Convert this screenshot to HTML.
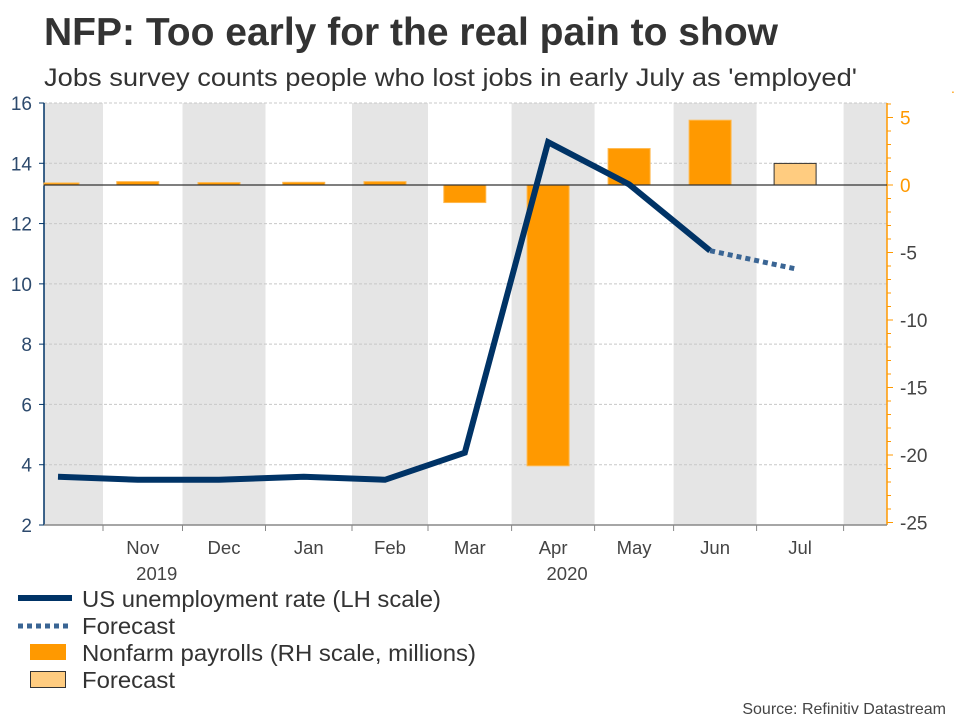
<!DOCTYPE html>
<html><head><meta charset="utf-8"><style>
body{margin:0;background:#fff;width:960px;height:720px;overflow:hidden;font-family:"Liberation Sans",Arial,sans-serif}
</style></head><body>
<svg id="c" width="960" height="720" xmlns="http://www.w3.org/2000/svg">
<text x="44" y="45" font-size="39" font-weight="bold" fill="#333" textLength="734" lengthAdjust="spacingAndGlyphs">NFP: Too early for the real pain to show</text>
<text x="44" y="86" font-size="25" fill="#333" textLength="813" lengthAdjust="spacingAndGlyphs">Jobs survey counts people who lost jobs in early July as 'employed'</text>
<text x="951" y="93" font-size="14" fill="#f90">.</text>
<g id="plot"></g>
<g>
<line x1="18" y1="598" x2="72" y2="598" stroke="#003366" stroke-width="6"/>
<text x="82" y="607" font-size="23" fill="#333" textLength="359" lengthAdjust="spacingAndGlyphs">US unemployment rate (LH scale)</text>
<line x1="18" y1="626" x2="72" y2="626" stroke="#3a6594" stroke-width="5" stroke-dasharray="5,4"/>
<text x="82" y="634" font-size="23" fill="#333" textLength="93" lengthAdjust="spacingAndGlyphs">Forecast</text>
<rect x="30" y="644" width="36" height="16" fill="#ff9900"/>
<text x="82" y="661" font-size="23" fill="#333" textLength="394" lengthAdjust="spacingAndGlyphs">Nonfarm payrolls (RH scale, millions)</text>
<rect x="30.5" y="671.5" width="35" height="16" fill="#ffcc80" stroke="#333"/>
<text x="82" y="688" font-size="23" fill="#333" textLength="93" lengthAdjust="spacingAndGlyphs">Forecast</text>
</g>
<text x="946" y="714" font-size="16" fill="#444" text-anchor="end">Source: Refinitiv Datastream</text>
</svg>
<script>
const months=["Oct","Nov","Dec","Jan","Feb","Mar","Apr","May","Jun","Jul"];
const unemp=[3.6,3.5,3.5,3.6,3.5,4.4,14.7,13.3,11.1,null];
const unempForecast=[null,null,null,null,null,null,null,null,11.1,10.5];
const payrolls=[0.15,0.25,0.18,0.2,0.25,-1.3,-20.8,2.7,4.8,null];
const payrollsForecast=[null,null,null,null,null,null,null,null,null,1.6];
const leftTicks=[2,4,6,8,10,12,14,16];
const rightTicks=[5,0,-5,-10,-15,-20,-25];
const yearLabels=[["2019",1],["2020",6]];

const NS="http://www.w3.org/2000/svg";
const plot=document.getElementById('plot');
function mk(t,a,p){const e=document.createElementNS(NS,t);for(const k in a)e.setAttribute(k,a[k]);(p||plot).appendChild(e);return e;}
const L=44,R=887,T=103,B=525;
const edges=[44,103,182.5,265.5,352,428,511.6,594.6,673.6,756.6,843.6,887];
const yL=v=>B-(v-2)*(B-T)/14;
const yR=v=>185-v*13.5;
function xc(i){return i===0?58:(edges[i]+edges[i+1])/2-5;}
for(let i=0;i<edges.length-1;i++){if(i%2===0){
const r=mk('rect',{x:edges[i],y:T,width:edges[i+1]-edges[i],height:B-T,fill:'#e5e5e5'});

}}
leftTicks.forEach(v=>{
if(v>2){const g=mk('line',{x1:L,x2:R,y1:yL(v),y2:yL(v),stroke:'#c8c8c8','stroke-dasharray':'3,2'});

}
mk('line',{x1:L-5,x2:L,y1:yL(v),y2:yL(v),stroke:'#003366'});
const t=mk('text',{x:L-12,y:yL(v)+7,'font-size':19,fill:'#2d4a6d','text-anchor':'end'});t.textContent=v;


});
const yl=mk('line',{x1:L,x2:L,y1:T,y2:B,stroke:'#003366','stroke-width':1.5});


const ra=mk('line',{x1:R,x2:R,y1:T,y2:B,stroke:'#f90','stroke-width':1.5});


for(let v=-25;v<=6;v++){mk('line',{x1:R,x2:R+(v%5===0?6:4),y1:yR(v),y2:yR(v),stroke:'#f90'});}
rightTicks.forEach(v=>{
const t=mk('text',{x:R+13,y:yR(v)+7,'font-size':19,fill:v>=0?'#f90':'#444'});t.textContent=v;


});
const xa=mk('line',{x1:L,x2:R,y1:B,y2:B,stroke:'#888','stroke-width':1.5});


edges.slice(1,-1).forEach(e=>mk('line',{x1:e,x2:e,y1:B,y2:B+6,stroke:'#888'}));
months.forEach((m,i)=>{if(i===0)return;
const t=mk('text',{x:(edges[i]+edges[i+1])/2,y:554,'font-size':18.5,fill:'#444','text-anchor':'middle'});t.textContent=m;

});
yearLabels.forEach(([y,i])=>{const t=mk('text',{x:(edges[i]+edges[i+1])/2+14,y:580,'font-size':18.5,fill:'#444','text-anchor':'middle'});t.textContent=y;

});
const bw=42;
function bar(v,i,fill,stroke,name){
const y0=yR(0),y1=yR(v);let x=xc(i)-bw/2,w=bw;if(x<L){w-=L-x;x=L;}
const r=mk('rect',{x:x,y:Math.min(y0,y1),width:w,height:Math.max(Math.abs(y1-y0),1),fill:fill,stroke:stroke});

}
payrolls.forEach((v,i)=>{if(v!==null)bar(v,i,'#ff9900','#ffb84d','payroll-bar');});
payrollsForecast.forEach((v,i)=>{if(v!==null)bar(v,i,'#ffcc80','#333','payroll-forecast-bar');});
const z=mk('line',{x1:L,x2:R,y1:yR(0),y2:yR(0),stroke:'#333','stroke-width':1.2});


function path(arr){let d='';arr.forEach((v,i)=>{if(v===null)return;d+=(d?'L':'M')+xc(i)+','+yL(v);});return d;}
const l1=mk('path',{d:path(unemp),fill:'none',stroke:'#003366','stroke-width':6,'stroke-linejoin':'miter'});


const l2=mk('path',{d:path(unempForecast),fill:'none',stroke:'#3a6594','stroke-width':5,'stroke-dasharray':'5,4'});


</script>
</body></html>
